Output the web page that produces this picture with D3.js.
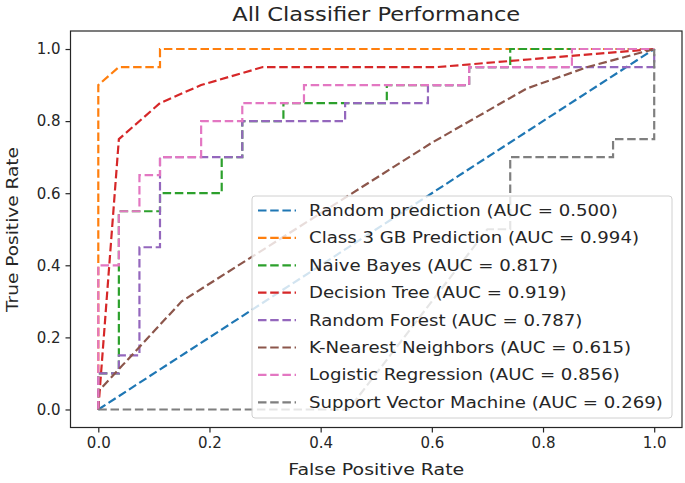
<!DOCTYPE html>
<html>
<head>
<meta charset="utf-8">
<script src="https://cdn.jsdelivr.net/npm/d3@7"></script>
<style>
  body { margin: 0; background: #fff; }
  svg { font-family: "DejaVu Sans", sans-serif; }
</style>
</head>
<body>
<svg id="chart" width="685" height="483"></svg>
<script>
// ROC curves
const names = [
    "Random prediction", "Class 3 GB Prediction", "Naive Bayes", "Decision Tree",
    "Random Forest", "K-Nearest Neighbors", "Logistic Regression", "Support Vector Machine"
];
const aucs = ["0.500", "0.994", "0.817", "0.919", "0.787", "0.615", "0.856", "0.269"];
const colors = ["#1f77b4", "#ff7f0e", "#2ca02c", "#d62728", "#9467bd", "#8c564b", "#e377c2", "#7f7f7f"];

const randomFpr = [0, 1];
const randomTpr = [0, 1];
const gbFpr = [0, 0, 0.037, 0.111, 0.111, 1];
const gbTpr = [0, 0.9, 0.95, 0.95, 1, 1];
const nbFpr = [0, 0, 0.037, 0.037, 0.111, 0.111, 0.222, 0.222, 0.259, 0.259, 0.333, 0.333, 0.519, 0.519, 0.667, 0.667, 0.741, 0.741, 1];
const nbTpr = [0, 0.1, 0.1, 0.55, 0.55, 0.6, 0.6, 0.7, 0.7, 0.8, 0.8, 0.85, 0.85, 0.9, 0.9, 0.95, 0.95, 1, 1];
const dtFpr = [0, 0.037, 0.111, 0.185, 0.296, 0.61, 1];
const dtTpr = [0, 0.75, 0.85, 0.9, 0.95, 0.95, 1];
const rfFpr = [0, 0, 0.037, 0.037, 0.074, 0.074, 0.111, 0.111, 0.259, 0.259, 0.444, 0.444, 0.593, 0.593, 0.667, 0.667, 1, 1];
const rfTpr = [0, 0.1, 0.1, 0.15, 0.15, 0.45, 0.45, 0.7, 0.7, 0.8, 0.8, 0.85, 0.85, 0.9, 0.9, 0.95, 0.95, 1];
const knnFpr = [0, 0, 0.15, 0.6, 0.77, 0.88, 1];
const knnTpr = [0, 0.05, 0.3, 0.74, 0.89, 0.95, 1];
const lrFpr = [0, 0, 0.037, 0.037, 0.074, 0.074, 0.111, 0.111, 0.185, 0.185, 0.259, 0.259, 0.37, 0.37, 0.667, 0.667, 0.852, 0.852, 1];
const lrTpr = [0, 0.4, 0.4, 0.55, 0.55, 0.65, 0.65, 0.7, 0.7, 0.8, 0.8, 0.85, 0.85, 0.9, 0.9, 0.95, 0.95, 1, 1];
const svmFpr = [0, 0.45, 0.7, 0.741, 0.741, 0.926, 0.926, 1, 1];
const svmTpr = [0, 0, 0.5, 0.5, 0.7, 0.7, 0.75, 0.75, 1];

const ticks = [0, 0.2, 0.4, 0.6, 0.8, 1.0];

const curves = [
    [randomFpr, randomTpr], [gbFpr, gbTpr], [nbFpr, nbTpr], [dtFpr, dtTpr],
    [rfFpr, rfTpr], [knnFpr, knnTpr], [lrFpr, lrTpr], [svmFpr, svmTpr]
].map(([xs, ys], i) => ({
    name: names[i], auc: aucs[i], color: colors[i],
    points: xs.map((x, j) => ({ x: x, y: ys[j] }))
}));

const svg = d3.select("#chart");
const LEFT = 70.5, RIGHT = 682, TOP = 31, BOTTOM = 427.5;
const xscale = d3.scaleLinear().domain([-0.05, 1.05]).range([LEFT, RIGHT]);
const yscale = d3.scaleLinear().domain([-0.05, 1.05]).range([BOTTOM, TOP]);

// the reference text is a bit wider than DejaVu at the same height
function stretch(sel, factor) {
    sel.each(function () {
        const w = this.getComputedTextLength();
        d3.select(this).attr("textLength", w * factor).attr("lengthAdjust", "spacingAndGlyphs");
    });
}

// clip to the axes box
svg.append("clipPath").attr("id", "plotclip")
    .append("rect")
    .attr("x", LEFT).attr("y", TOP)
    .attr("width", RIGHT - LEFT).attr("height", BOTTOM - TOP);

const line = d3.line().x(d => xscale(d.x)).y(d => yscale(d.y));

svg.append("g").attr("clip-path", "url(#plotclip)")
    .selectAll(".curve").data(curves).join("path")
    .attr("class", "curve")
    .attr("d", d => line(d.points))
    .attr("fill", "none")
    .attr("stroke", d => d.color)
    .attr("stroke-width", 2.2)
    .attr("stroke-dasharray", "8.5,3.7");

// axes
const xAxis = d3.axisBottom(xscale).tickValues(ticks).tickFormat(d3.format(".1f")).tickSize(5).tickPadding(5);
const yAxis = d3.axisLeft(yscale).tickValues(ticks).tickFormat(d3.format(".1f")).tickSize(5).tickPadding(5);

const gx = svg.append("g").attr("transform", `translate(0,${BOTTOM})`).call(xAxis);
const gy = svg.append("g").attr("transform", `translate(${LEFT},0)`).call(yAxis);
[gx, gy].forEach(g => {
    g.select(".domain").remove();
    g.selectAll("text").attr("font-family", "DejaVu Sans").attr("font-size", 15).attr("fill", "#262626");
    g.selectAll("line").attr("stroke", "#262626").attr("stroke-width", 1.2);
});

svg.append("rect")
    .attr("x", LEFT).attr("y", TOP)
    .attr("width", RIGHT - LEFT).attr("height", BOTTOM - TOP)
    .attr("fill", "none").attr("stroke", "#262626").attr("stroke-width", 1.2);

// labels
svg.append("text")
    .attr("x", (LEFT + RIGHT) / 2).attr("y", 21)
    .attr("text-anchor", "middle").attr("font-size", 19).attr("fill", "#262626")
    .attr("textLength", 288).attr("lengthAdjust", "spacingAndGlyphs")
    .text("All Classifier Performance");
svg.append("text")
    .attr("x", (LEFT + RIGHT) / 2).attr("y", 475)
    .attr("text-anchor", "middle").attr("font-size", 15).attr("fill", "#262626")
    .attr("textLength", 176).attr("lengthAdjust", "spacingAndGlyphs")
    .text("False Positive Rate");
svg.append("text")
    .attr("transform", `translate(18,229.5) rotate(-90)`)
    .attr("text-anchor", "middle").attr("font-size", 15).attr("fill", "#262626")
    .attr("textLength", 165).attr("lengthAdjust", "spacingAndGlyphs")
    .text("True Positive Rate");

// legend
const legend = svg.append("g");
legend.append("rect")
    .attr("x", 252).attr("y", 196)
    .attr("width", 420).attr("height", 222)
    .attr("rx", 3)
    .attr("fill", "white").attr("fill-opacity", 0.8)
    .attr("stroke", "#d0d0d0").attr("stroke-width", 1);

const rowY = i => 210.5 + i * 27.4;
legend.selectAll(".lg-line").data(curves).join("line")
    .attr("class", "lg-line")
    .attr("x1", 258).attr("x2", 296)
    .attr("y1", (d, i) => rowY(i)).attr("y2", (d, i) => rowY(i))
    .attr("stroke", d => d.color)
    .attr("stroke-width", 2.2)
    .attr("stroke-dasharray", "8.5,3.7");
legend.selectAll(".lg-text").data(curves).join("text")
    .attr("class", "lg-text")
    .attr("x", 309)
    .attr("y", (d, i) => rowY(i))
    .attr("dy", "0.35em")
    .attr("font-size", 15.5)
    .attr("fill", "#262626")
    .text(d => `${d.name} (AUC = ${d.auc})`)
    .call(stretch, 1.17);
</script>
</body>
</html>
